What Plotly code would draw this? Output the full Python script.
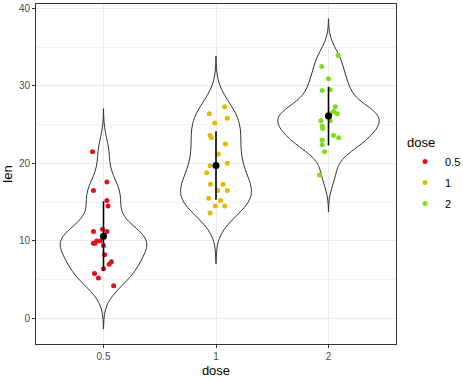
import numpy as np
import plotly.graph_objects as go

# ---- data (ToothGrowth len by dose) ----
doses = ["0.5", "1", "2"]
len_05 = [21.5, 16.5, 17.6, 15.2, 14.5, 11.2, 11.5, 11.2, 9.7, 9.7,
          10.0, 10.0, 9.4, 8.2, 7.0, 7.3, 6.4, 5.8, 5.2, 4.2]
jit_05 = [-0.098, -0.089, 0.03, 0.03, 0.04, -0.089, -0.009, 0.03, -0.09, -0.075,
          -0.06, -0.03, 0.0, 0.01, 0.05, 0.07, 0.0, -0.08, -0.045, 0.09]
len_1 = [27.3, 26.4, 25.8, 25.2, 23.6, 23.3, 22.5, 21.2, 19.7, 20.0,
         18.8, 17.3, 17.3, 16.5, 16.5, 15.5, 15.2, 14.5, 14.5, 13.6]
jit_1 = [0.077, -0.06, 0.10, -0.012, -0.053, -0.04, 0.083, 0.02, -0.053, 0.10,
         -0.083, -0.05, 0.062, 0.015, 0.10, -0.065, 0.04, -0.006, 0.077, -0.053]
len_2 = [33.9, 32.5, 30.9, 29.4, 29.5, 27.3, 26.7, 26.4, 26.4, 26.4,
         25.5, 25.5, 24.8, 24.5, 23.6, 23.3, 23.0, 22.4, 21.5, 18.5]
jit_2 = [0.086, -0.06, 0.0, -0.056, 0.015, 0.06, 0.045, 0.077, 0.0, 0.015,
         -0.068, 0.015, -0.056, -0.053, 0.045, 0.09, -0.056, -0.056, -0.035, -0.08]
y_ticks = [0, 10, 20, 30, 40]

groups = [len_05, len_1, len_2]
jitters = [jit_05, jit_1, jit_2]
colors = ["#E01020", "#E7B800", "#7CDC1E"]


def nrd0(v):
    v = np.asarray(v, float)
    sd = v.std(ddof=1)
    iqr = np.subtract(*np.percentile(v, [75, 25]))
    return 0.9 * min(sd, iqr / 1.34) * len(v) ** -0.2


def max_kde(v, bw):
    v = np.asarray(v, float)
    g = np.linspace(v.min() - 3 * bw, v.max() + 3 * bw, 512)
    d = np.exp(-0.5 * ((g[:, None] - v[None, :]) / bw) ** 2).sum(1)
    return d.max() / (len(v) * bw * np.sqrt(2 * np.pi))


bws = [nrd0(v) for v in groups]
peaks = [max_kde(v, b) for v, b in zip(groups, bws)]
top = max(peaks)

fig = go.Figure()

for i, vals in enumerate(groups):
    bw = bws[i]
    fig.add_trace(go.Violin(
        x=[i] * len(vals), y=vals, width=0.9 * peaks[i] / top, bandwidth=bw,
        spanmode="manual", span=[min(vals) - 3 * bw, max(vals) + 3 * bw],
        scalegroup="g%d" % i, scalemode="width",
        points=False, line=dict(color="#333333", width=1),
        fillcolor="rgba(255,255,255,0)", showlegend=False, hoverinfo="skip",
    ))

for i, vals in enumerate(groups):
    fig.add_trace(go.Scatter(
        x=[i + j for j in jitters[i]], y=vals, mode="markers",
        marker=dict(color=colors[i], size=5), name=doses[i],
        legendgroup=doses[i],
    ))

means = [float(np.mean(v)) for v in groups]
sds = [float(np.std(v, ddof=1)) for v in groups]
fig.add_trace(go.Scatter(
    x=[0, 1, 2], y=means, mode="markers",
    marker=dict(color="black", size=7),
    error_y=dict(type="data", array=sds, visible=True, width=0,
                 thickness=1.6, color="black"),
    showlegend=False, hoverinfo="skip",
))

axis_common = dict(
    showline=True, mirror=True, linecolor="#333333", linewidth=1,
    ticks="outside", ticklen=3, tickcolor="#333333", tickwidth=1,
    tickfont=dict(family="Liberation Sans, Arial", size=10, color="#4D4D4D"),
    gridcolor="#EBEBEB", gridwidth=1, zeroline=False,
)

fig.update_layout(
    width=463, height=383,
    margin=dict(l=36, r=67, t=4, b=39, autoexpand=False),
    paper_bgcolor="white", plot_bgcolor="white",
    violinmode="overlay",
    font=dict(family="Liberation Sans, Arial", color="black"),
    xaxis=dict(
        axis_common, range=[-0.6, 2.6], tickmode="array",
        tickvals=[0, 1, 2], ticktext=doses,
        title=dict(text="dose", font=dict(size=13), standoff=4),
        automargin=False,
    ),
    yaxis=dict(
        axis_common, range=[-3.3, 40.55], tickmode="array",
        tickvals=y_ticks, ticktext=[str(t) for t in y_ticks],
        minor=dict(tickvals=[5, 15, 25, 35], showgrid=True,
                   gridcolor="#F2F2F2", gridwidth=1, ticks=""),
        title=dict(text="len", font=dict(size=13), standoff=6),
        automargin=False,
    ),
    legend=dict(
        title=dict(text="dose", font=dict(size=13)),
        font=dict(size=11), x=1.025, xanchor="left", y=0.629, yanchor="top",
        itemsizing="trace", tracegroupgap=2,
    ),
)

fig.write_html("out.html", config={"displayModeBar": False},
               post_script="document.body.style.margin='0';")
